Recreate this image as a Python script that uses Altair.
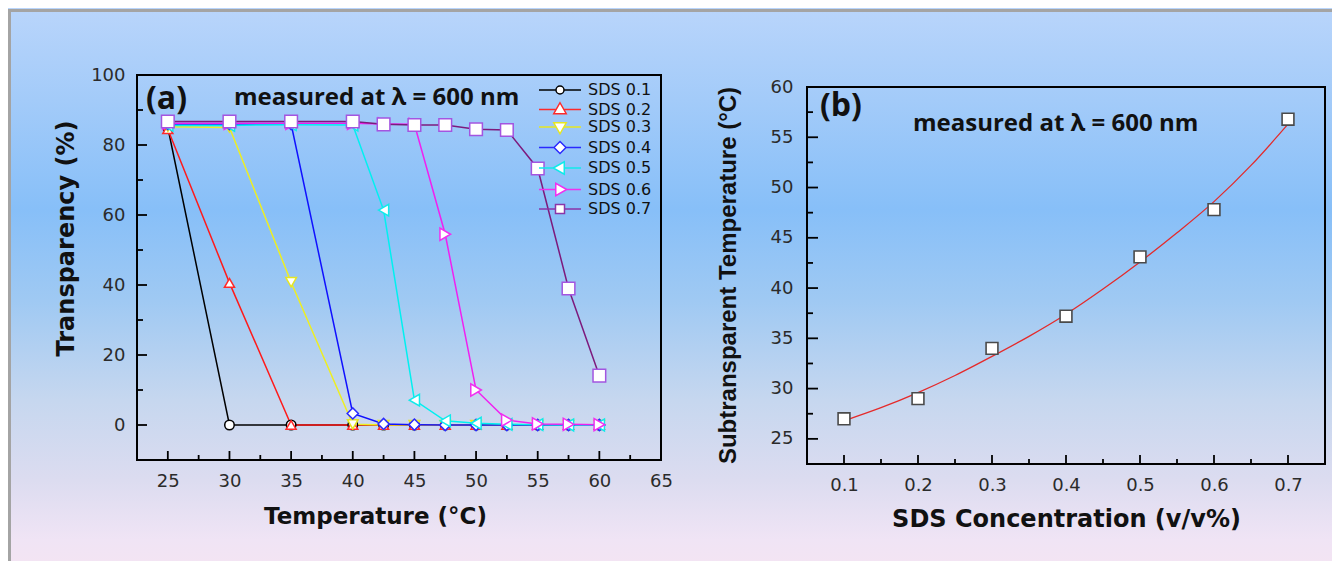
import altair as alt
import pandas as pd

# ---------------- data: panel (a) ----------------
temps = [25, 30, 35, 40, 42.5, 45, 47.5, 50, 52.5, 55, 57.5, 60]
sds_01 = [85.0, 0.0, 0.0, 0.0, 0.0, 0.0, 0.0, 0.0, 0.0, 0.0, 0.0, 0.0]
sds_02 = [84.5, 40.6, 0.0, 0.0, 0.0, 0.0, 0.0, 0.0, 0.0, 0.0, 0.0, 0.0]
sds_03 = [85.2, 85.0, 40.8, 0.2, 0.0, 0.0, 0.0, 0.0, 0.0, 0.0, 0.0, 0.0]
sds_04 = [86.0, 86.0, 86.0, 3.3, 0.3, 0.1, 0.0, 0.0, 0.0, 0.0, 0.0, 0.0]
sds_05 = [85.6, 85.6, 85.8, 85.7, 61.4, 7.1, 1.2, 0.5, 0.2, 0.1, 0.0, 0.0]
sds_06 = [86.2, 86.2, 86.2, 86.2, 86.0, 85.9, 54.5, 10.0, 1.4, 0.3, 0.2, 0.1]
sds_07 = [86.7, 86.7, 86.7, 86.7, 85.9, 85.7, 85.7, 84.5, 84.3, 73.3, 39.0, 14.1]
series_names = ["SDS 0.1", "SDS 0.2", "SDS 0.3", "SDS 0.4", "SDS 0.5", "SDS 0.6", "SDS 0.7"]

# ---------------- data: panel (b) ----------------
conc = [0.1, 0.2, 0.3, 0.4, 0.5, 0.6, 0.7]
sub_temp = [27.0, 29.0, 34.0, 37.2, 43.1, 47.8, 56.8]
fit_conc = [0.1, 0.15, 0.2, 0.25, 0.3, 0.35, 0.4, 0.45, 0.5, 0.55, 0.6, 0.65, 0.7]
fit_temp = [26.8, 28.1, 29.6, 31.3, 33.2, 35.2, 37.4, 39.9, 42.6, 45.5, 48.6, 52.2, 56.3]

# tick values / labels
xa_major = [25, 30, 35, 40, 45, 50, 55, 60, 65]
xa_minor = [27.5, 32.5, 37.5, 42.5, 47.5, 52.5, 57.5, 62.5]
ya_major = [0, 20, 40, 60, 80, 100]
ya_minor = [10, 30, 50, 70, 90]
xb_major = [0.1, 0.2, 0.3, 0.4, 0.5, 0.6, 0.7]
xb_minor = [0.15, 0.25, 0.35, 0.45, 0.55, 0.65]
yb_major = [25, 30, 35, 40, 45, 50, 55, 60]
yb_minor = [27.5, 32.5, 37.5, 42.5, 47.5, 52.5, 57.5]

label_a = ["(a)"]
label_b = ["(b)"]
note_text = ["measured at \u03bb = 600 nm"]

# ---------------- styles ----------------
line_colors = ["#000000", "#ff1a1a", "#eeee22", "#1010ff", "#00f0f0", "#f020f0", "#7d1a7d"]
marker_colors = ["#000000", "#ff2a2a", "#e6e622", "#2a2aff", "#10eaea", "#f030f0", "#a355e0"]
legend_colors = ["#000000", "#ff2a2a", "#e6e622", "#2a2aff", "#10eaea", "#f030f0", "#8b35a8"]
marker_shapes = ["circle", "triangle-up", "triangle-down", "diamond", "triangle-left", "triangle-right", "square"]
marker_sizes = [90, 160, 160, 150, 160, 160, 80]
legend_paths = [
    "M-4.2,0H-0.8M0.8,0H4.2M0.8,0A0.8,0.8,0,1,1,-0.8,0A0.8,0.8,0,1,1,0.8,0Z",
    "M-4.2,0H-0.77M0.77,0H4.2M0,-1.35L1.25,0.85L-1.25,0.85Z",
    "M-4.2,0H-0.77M0.77,0H4.2M0,1.35L1.25,-0.85L-1.25,-0.85Z",
    "M-4.2,0H-1.2M1.2,0H4.2M0,-1.2L1.2,0L0,1.2L-1.2,0Z",
    "M-4.2,0H-1.35M0.85,0H4.2M-1.35,0L0.85,-1.25L0.85,1.25Z",
    "M-4.2,0H-0.85M1.35,0H4.2M1.35,0L-0.85,-1.25L-0.85,1.25Z",
    "M-4.2,0H-0.9M0.9,0H4.2M-0.9,-0.9H0.9V0.9H-0.9Z",
]

# view sizes (both views share the same top; panel b's data area starts 12px lower)
WA, HA = 524, 385
WB, HB = 518, 389
B_TOP = 12

bg_gradient = alt.LinearGradient(
    gradient="linear", x1=0, y1=0, x2=0, y2=1,
    stops=[
        alt.GradientStop(offset=0.0, color="#b9d5fb"),
        alt.GradientStop(offset=0.166, color="#a3cbf9"),
        alt.GradientStop(offset=0.365, color="#87bff8"),
        alt.GradientStop(offset=0.528, color="#9fc9f3"),
        alt.GradientStop(offset=0.709, color="#c6d7ef"),
        alt.GradientStop(offset=0.854, color="#dcdcf0"),
        alt.GradientStop(offset=0.962, color="#f0e4f5"),
        alt.GradientStop(offset=1.0, color="#f3e4f3"),
    ],
)

TICK_FONT = "DejaVu Sans"
TITLE_FONT = "DejaVu Sans"
NOTE_FONT = "Open Sans"
BORDER = "#a4a4a4"


def label_axis(orient, values, fmt, title, tsize, tx, ty, pad, tfont=TITLE_FONT):
    kw = dict(
        orient=orient, values=values, format=fmt, ticks=False, tickSize=0, domain=False, grid=False,
        labelFont=TICK_FONT, labelFontSize=18, labelColor="#2b2b2b", labelPadding=pad,
        labelFlush=False, labelOverlap=False, title=title, titleFont=tfont, titleFontSize=tsize,
        titleFontWeight="bold", titleColor="#111111", titleX=tx, titleY=ty, titleAlign="center",
        titleBaseline="middle", zindex=1,
    )
    if orient == "left":
        kw["titleAngle"] = 270
    return alt.Axis(**kw)


def x_ticks(values, scale, base, length):
    return alt.Chart(pd.DataFrame({"v": values})).mark_rule(color="#000000", strokeWidth=1.8).encode(
        x=alt.X("v:Q", scale=scale, axis=None), y=alt.value(base), y2=alt.value(base - length)
    )


def y_ticks(values, scale, length):
    return alt.Chart(pd.DataFrame({"v": values})).mark_rule(color="#000000", strokeWidth=1.8).encode(
        y=alt.Y("v:Q", scale=scale, axis=None), x=alt.value(0), x2=alt.value(length)
    )


one = pd.DataFrame({"k": [0]})


def rect(x0, x1, y0, y1, **style):
    return alt.Chart(one).mark_rect(**style).encode(
        x=alt.value(x0), x2=alt.value(x1), y=alt.value(y0), y2=alt.value(y1)
    )


# ---------------- panel (a) ----------------
all_series = [sds_01, sds_02, sds_03, sds_04, sds_05, sds_06, sds_07]
rows = []
for name, vals in zip(series_names, all_series):
    for t, v in zip(temps, vals):
        rows.append({"series": name, "T": t, "V": v})
dfa = pd.DataFrame(rows)

xs_a = alt.Scale(domain=[22.5, 65], nice=False, zero=False)
ys_a = alt.Scale(domain=[-10, 100], nice=False, zero=False)

bg_a = rect(-129, 553, -67, 486, fill=bg_gradient, strokeWidth=0)
border_top_a = rect(-129, 553, -66, -63, fill=BORDER, strokeWidth=0)
border_left_a = rect(-129, -126, -66, 486, fill=BORDER, strokeWidth=0)
frame_a = rect(0, WA, 0, HA, fillOpacity=0, stroke="#000000", strokeWidth=2)

lines_a = alt.Chart(dfa).mark_line(strokeWidth=1.5).encode(
    x=alt.X("T:Q", scale=xs_a,
            axis=label_axis("bottom", xa_major, "d", "Temperature (\u00b0C)", 23, 238, 56, 12)),
    y=alt.Y("V:Q", scale=ys_a,
            axis=label_axis("left", ya_major, "d", "Transparency (%)", 24, -71, 163, 12)),
    color=alt.Color("series:N", scale=alt.Scale(domain=series_names, range=line_colors), legend=None),
)

points_a = alt.Chart(dfa).mark_point(filled=True, fill="#ffffff", fillOpacity=1, opacity=1, strokeWidth=1.5).encode(
    x=alt.X("T:Q", scale=xs_a, axis=None),
    y=alt.Y("V:Q", scale=ys_a, axis=None),
    stroke=alt.Stroke("series:N", scale=alt.Scale(domain=series_names, range=marker_colors), legend=None),
    shape=alt.Shape("series:N", scale=alt.Scale(domain=series_names, range=marker_shapes), legend=None),
    size=alt.Size("series:N", scale=alt.Scale(domain=series_names, range=marker_sizes), legend=None),
)

leg = alt.Legend(
    orient="none", legendX=415, legendY=7, title=None, padding=0,
    labelFont=TICK_FONT, labelFontSize=16, labelColor="#111111", labelOffset=20,
    symbolOffset=0, rowPadding=1.5, symbolFillColor="#ffffff", symbolStrokeWidth=1.5,
    symbolSize=100, zindex=1, labelLimit=300,
)
legend_a = alt.Chart(dfa).mark_point(filled=True, fill="#ffffff", fillOpacity=1, strokeWidth=1.5, size=100).encode(
    x=alt.X("T:Q", scale=xs_a, axis=None),
    y=alt.Y("V:Q", scale=ys_a, axis=None),
    stroke=alt.Stroke("series:N", scale=alt.Scale(domain=series_names, range=legend_colors), legend=leg),
    shape=alt.Shape("series:N", scale=alt.Scale(domain=series_names, range=legend_paths), legend=leg),
).transform_filter("false")

txt_a = alt.Chart(pd.DataFrame({"t": label_a})).mark_text(
    font=NOTE_FONT, fontSize=32, fontWeight="bold", color="#111111", align="left", baseline="middle"
).encode(x=alt.value(9), y=alt.value(24), text="t:N")
note_a = alt.Chart(pd.DataFrame({"t": note_text})).mark_text(
    font=NOTE_FONT, fontSize=24, fontWeight="bold", color="#111111", align="left", baseline="middle"
).encode(x=alt.value(97), y=alt.value(23), text="t:N")

panel_a = alt.layer(
    bg_a, border_top_a, border_left_a, frame_a,
    x_ticks(xa_major, xs_a, HA, 9), x_ticks(xa_minor, xs_a, HA, 5),
    y_ticks(ya_major, ys_a, 10), y_ticks(ya_minor, ys_a, 6),
    lines_a, points_a, legend_a, txt_a, note_a
).resolve_scale(
    color="independent", stroke="independent", shape="independent", size="independent"
).resolve_axis(x="independent", y="independent").properties(width=WA, height=HA)

# ---------------- panel (b) ----------------
dfb = pd.DataFrame({"c": conc, "t": sub_temp})
dfit = pd.DataFrame({"c": fit_conc, "t": fit_temp})

xs_b = alt.Scale(domain=[0.05, 0.75], nice=False, zero=False)
ys_b = alt.Scale(domain=[22.5, 60], range=[HB, B_TOP], nice=False, zero=False)

bg_b = rect(-117, 525, -67, 486, fill=bg_gradient, strokeWidth=0)
border_top_b = rect(-117, 525, -66, -63, fill=BORDER, strokeWidth=0)
frame_b = rect(0, WB, B_TOP, HB, fillOpacity=0, stroke="#000000", strokeWidth=2)

curve_b = alt.Chart(dfit).mark_line(color="#e52a2a", strokeWidth=1.3, interpolate="monotone").encode(
    x=alt.X("c:Q", scale=xs_b,
            axis=label_axis("bottom", xb_major, ".1f", "SDS Concentration (v/v%)", 24, 259, 55, 12)),
    y=alt.Y("t:Q", scale=ys_b,
            axis=label_axis("left", yb_major, "d", "Subtransparent Temperature (\u00b0C)", 24, -79, 200, 14,
                            tfont="Liberation Sans")),
)
points_b = alt.Chart(dfb).mark_point(
    shape="square", size=140, filled=True, fill="#ffffff", fillOpacity=1, stroke="#4a4a4a", strokeWidth=1.6
).encode(
    x=alt.X("c:Q", scale=xs_b, axis=None),
    y=alt.Y("t:Q", scale=ys_b, axis=None),
)
txt_b = alt.Chart(pd.DataFrame({"t": label_b})).mark_text(
    font=NOTE_FONT, fontSize=32, fontWeight="bold", color="#111111", align="left", baseline="middle"
).encode(x=alt.value(13), y=alt.value(31), text="t:N")
note_b = alt.Chart(pd.DataFrame({"t": note_text})).mark_text(
    font=NOTE_FONT, fontSize=24, fontWeight="bold", color="#111111", align="left", baseline="middle"
).encode(x=alt.value(106), y=alt.value(49), text="t:N")

panel_b = alt.layer(
    bg_b, border_top_b, frame_b,
    x_ticks(xb_major, xs_b, HB, 9), x_ticks(xb_minor, xs_b, HB, 5),
    y_ticks(yb_major, ys_b, 11), y_ticks(yb_minor, ys_b, 6),
    curve_b, points_b, txt_b, note_b
).resolve_axis(x="independent", y="independent").properties(width=WB, height=HB)

chart = alt.hconcat(panel_a, panel_b, spacing=0).properties(padding=0).configure_view(strokeOpacity=0)

chart.save("out.html", embed_options={"renderer": "svg", "actions": False})
